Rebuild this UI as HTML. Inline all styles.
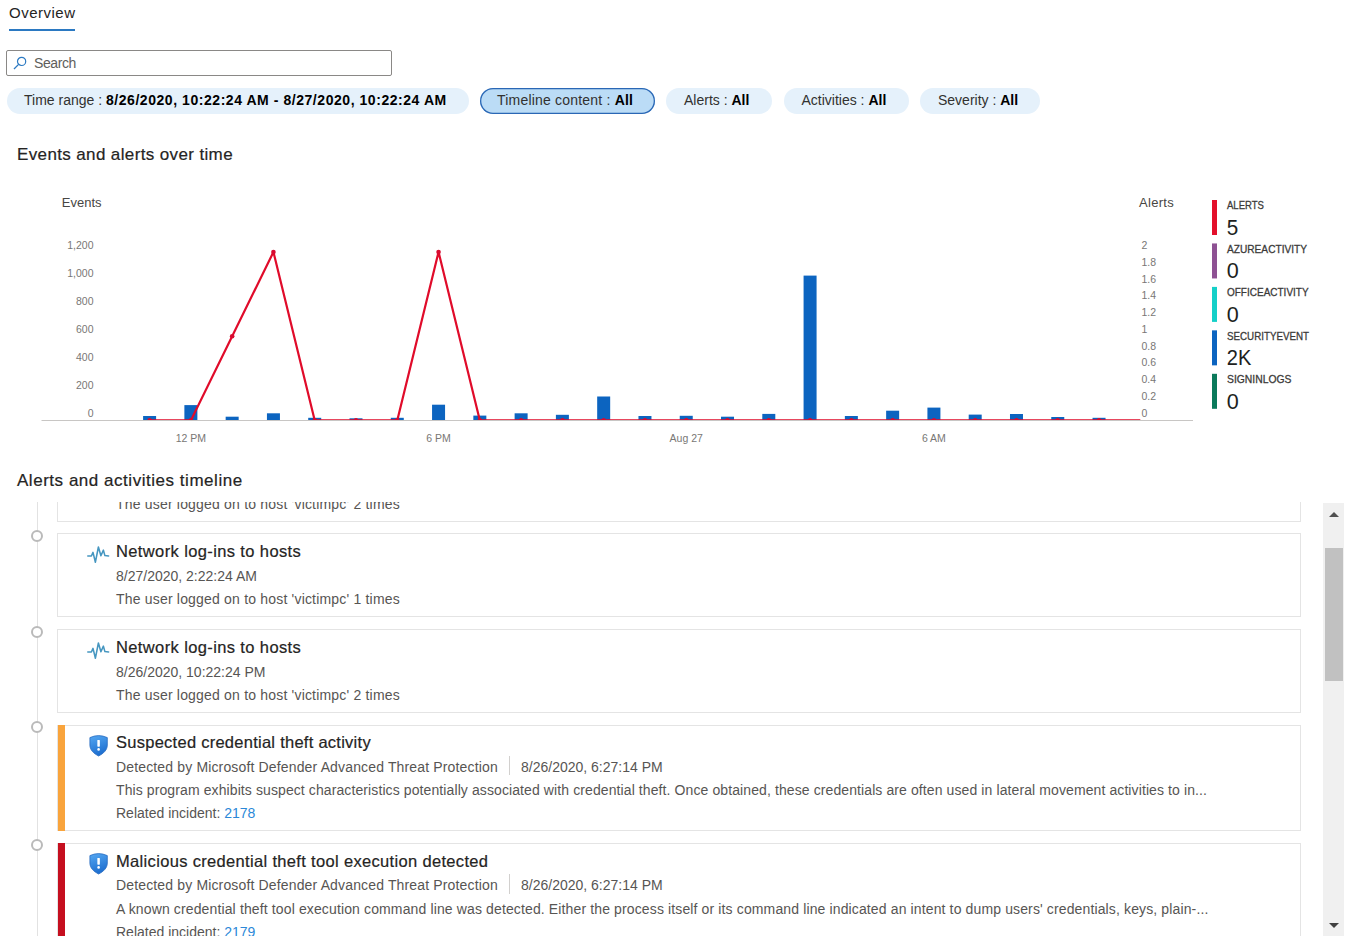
<!DOCTYPE html>
<html>
<head>
<meta charset="utf-8">
<style>
html,body{margin:0;padding:0;background:#fff;}
body{width:1352px;height:936px;overflow:hidden;position:relative;font-family:"Liberation Sans",Arial,sans-serif;color:#323130;}
.a{position:absolute;white-space:nowrap;}
.tab{left:9px;top:3.5px;font-size:15px;letter-spacing:0.5px;color:#252423;}
.tabline{left:9px;top:29px;width:66px;height:2px;background:#2b79c2;}
.search{left:6px;top:50px;width:384px;height:24px;border:1px solid #8a8886;border-radius:2px;}
.search span{position:absolute;left:27px;top:4.2px;font-size:14px;letter-spacing:-0.4px;color:#605e5c;}
.pill{top:88px;height:26px;border-radius:13px;background:#e5f1fb;font-size:14px;line-height:25px;color:#323130;box-sizing:border-box;}
.pill b{color:#000;}
.pill b.d{letter-spacing:0.55px;}
.pill.sel{background:#bbdcf6;box-shadow:inset 0 0 0 1.3px #2a67b5;}
.h2{font-size:17px;color:#252423;-webkit-text-stroke:0.2px #252423;}
svg text{font-family:"Liberation Sans",Arial,sans-serif;}
.axt{font-size:13px;fill:#484644;}
.ayl{font-size:10.5px;fill:#797775;}
.axl{font-size:10.5px;fill:#797775;}
.lgn{font-size:11.2px;fill:#3b3a39;stroke:#3b3a39;stroke-width:0.3px;}
.lgv{font-size:21.6px;fill:#201f1e;}
.card{left:57px;width:1244px;border:1px solid #e4e4e4;background:#fff;box-sizing:border-box;}
.circ{width:12px;height:12px;border:2px solid #bababa;border-radius:50%;box-sizing:border-box;background:#fff;}
.ct{font-size:16.5px;line-height:16.5px;letter-spacing:0.35px;color:#252423;-webkit-text-stroke:0.2px #252423;}
.cs{font-size:14px;line-height:14px;letter-spacing:0.13px;color:#575553;}
.cs.dt{letter-spacing:0;}
.cs.ds{letter-spacing:0.1px;}
.lnk{color:#2b88d8;}
</style>
</head>
<body>
<div class="a tab">Overview</div>
<div class="a tabline"></div>

<div class="a search">
<svg style="position:absolute;left:6px;top:5px" width="14" height="14" viewBox="0 0 14 14"><circle cx="8.6" cy="5.4" r="4.1" fill="none" stroke="#2b79c2" stroke-width="1.2"/><line x1="5.6" y1="8.4" x2="1" y2="13" stroke="#2b79c2" stroke-width="1.3"/></svg>
<span>Search</span>
</div>

<div class="a pill" style="left:7px;width:462px;padding-left:17px">Time range : <b class="d">8/26/2020, 10:22:24 AM - 8/27/2020, 10:22:24 AM</b></div>
<div class="a pill sel" style="left:480px;width:175px;padding-left:17px;letter-spacing:0.2px">Timeline content : <b>All</b></div>
<div class="a pill" style="left:666px;width:106px;padding-left:18px">Alerts : <b>All</b></div>
<div class="a pill" style="left:783.5px;width:125.5px;padding-left:18px">Activities : <b>All</b></div>
<div class="a pill" style="left:920px;width:120px;padding-left:18px">Severity : <b>All</b></div>

<div class="a h2" style="left:17px;top:145px;letter-spacing:0.37px">Events and alerts over time</div>

<svg class="a" style="left:0;top:180px" width="1352" height="280" viewBox="0 180 1352 280">
<text x="61.8" y="206.9" class="axt">Events</text>
<text x="1139" y="207.3" class="axt" style="letter-spacing:0.3px">Alerts</text>
<text x="93.5" y="249.3" class="ayl" text-anchor="end">1,200</text>
<text x="93.5" y="277.22" class="ayl" text-anchor="end">1,000</text>
<text x="93.5" y="305.14" class="ayl" text-anchor="end">800</text>
<text x="93.5" y="333.06" class="ayl" text-anchor="end">600</text>
<text x="93.5" y="360.98" class="ayl" text-anchor="end">400</text>
<text x="93.5" y="388.9" class="ayl" text-anchor="end">200</text>
<text x="93.5" y="416.82" class="ayl" text-anchor="end">0</text>
<text x="1141.5" y="249.3" class="ayl">2</text>
<text x="1141.5" y="266.03" class="ayl">1.8</text>
<text x="1141.5" y="282.76" class="ayl">1.6</text>
<text x="1141.5" y="299.49" class="ayl">1.4</text>
<text x="1141.5" y="316.22" class="ayl">1.2</text>
<text x="1141.5" y="332.95" class="ayl">1</text>
<text x="1141.5" y="349.68" class="ayl">0.8</text>
<text x="1141.5" y="366.41" class="ayl">0.6</text>
<text x="1141.5" y="383.14" class="ayl">0.4</text>
<text x="1141.5" y="399.87" class="ayl">0.2</text>
<text x="1141.5" y="416.6" class="ayl">0</text>
<rect x="41.5" y="420" width="1151.5" height="1" fill="#c8c6c4"/>
<rect x="143.1" y="416" width="13" height="4" fill="#0c64c0"/>
<rect x="184.38" y="405.1" width="13" height="14.9" fill="#0c64c0"/>
<rect x="225.66" y="416.7" width="13" height="3.3" fill="#0c64c0"/>
<rect x="266.94" y="413.3" width="13" height="6.7" fill="#0c64c0"/>
<rect x="308.22" y="417.8" width="13" height="2.2" fill="#0c64c0"/>
<rect x="349.5" y="418.3" width="13" height="1.7" fill="#0c64c0"/>
<rect x="390.78" y="417.8" width="13" height="2.2" fill="#0c64c0"/>
<rect x="432.06" y="404.7" width="13" height="15.3" fill="#0c64c0"/>
<rect x="473.34" y="415.6" width="13" height="4.4" fill="#0c64c0"/>
<rect x="514.62" y="413.3" width="13" height="6.7" fill="#0c64c0"/>
<rect x="555.9" y="414.8" width="13" height="5.2" fill="#0c64c0"/>
<rect x="597.18" y="396.5" width="13" height="23.5" fill="#0c64c0"/>
<rect x="638.46" y="416" width="13" height="4" fill="#0c64c0"/>
<rect x="679.74" y="415.8" width="13" height="4.2" fill="#0c64c0"/>
<rect x="721.02" y="416.7" width="13" height="3.3" fill="#0c64c0"/>
<rect x="762.3" y="413.9" width="13" height="6.1" fill="#0c64c0"/>
<rect x="803.58" y="275.6" width="13" height="144.4" fill="#0c64c0"/>
<rect x="844.86" y="416" width="13" height="4" fill="#0c64c0"/>
<rect x="886.14" y="410.7" width="13" height="9.3" fill="#0c64c0"/>
<rect x="927.42" y="407.6" width="13" height="12.4" fill="#0c64c0"/>
<rect x="968.7" y="414.6" width="13" height="5.4" fill="#0c64c0"/>
<rect x="1009.98" y="414" width="13" height="6" fill="#0c64c0"/>
<rect x="1051.26" y="417" width="13" height="3" fill="#0c64c0"/>
<rect x="1092.54" y="417.8" width="13" height="2.2" fill="#0c64c0"/>
<defs><clipPath id="pc"><rect x="0" y="180" width="1352" height="240"/></clipPath></defs>
<g clip-path="url(#pc)"><polyline fill="none" stroke="#e00b2a" stroke-width="2.2" stroke-linejoin="round" points="149.6,420.4 190.88,420.4 232.16,336.2 273.44,252 314.72,420.4 356,420.4 397.28,420.4 438.56,252 479.84,420.4 521.12,420.4 562.4,420.4 603.68,420.4 644.96,420.4 686.24,420.4 727.52,420.4 768.8,420.4 810.08,420.4 851.36,420.4 892.64,420.4 933.92,420.4 975.2,420.4 1016.48,420.4 1057.76,420.4 1099.04,420.4 1140.32,420.4"/>
<circle cx="149.6" cy="420.4" r="2.3" fill="#d80b30"/>
<circle cx="190.88" cy="420.4" r="2.3" fill="#d80b30"/>
<circle cx="232.16" cy="336.2" r="2.3" fill="#d80b30"/>
<circle cx="273.44" cy="252" r="2.3" fill="#d80b30"/>
<circle cx="314.72" cy="420.4" r="2.3" fill="#d80b30"/>
<circle cx="356" cy="420.4" r="2.3" fill="#d80b30"/>
<circle cx="397.28" cy="420.4" r="2.3" fill="#d80b30"/>
<circle cx="438.56" cy="252" r="2.3" fill="#d80b30"/>
<circle cx="479.84" cy="420.4" r="2.3" fill="#d80b30"/>
<circle cx="521.12" cy="420.4" r="2.3" fill="#d80b30"/>
<circle cx="562.4" cy="420.4" r="2.3" fill="#d80b30"/>
<circle cx="603.68" cy="420.4" r="2.3" fill="#d80b30"/>
<circle cx="644.96" cy="420.4" r="2.3" fill="#d80b30"/>
<circle cx="686.24" cy="420.4" r="2.3" fill="#d80b30"/>
<circle cx="727.52" cy="420.4" r="2.3" fill="#d80b30"/>
<circle cx="768.8" cy="420.4" r="2.3" fill="#d80b30"/>
<circle cx="810.08" cy="420.4" r="2.3" fill="#d80b30"/>
<circle cx="851.36" cy="420.4" r="2.3" fill="#d80b30"/>
<circle cx="892.64" cy="420.4" r="2.3" fill="#d80b30"/>
<circle cx="933.92" cy="420.4" r="2.3" fill="#d80b30"/>
<circle cx="975.2" cy="420.4" r="2.3" fill="#d80b30"/>
<circle cx="1016.48" cy="420.4" r="2.3" fill="#d80b30"/>
<circle cx="1057.76" cy="420.4" r="2.3" fill="#d80b30"/>
<circle cx="1099.04" cy="420.4" r="2.3" fill="#d80b30"/>
</g>
<text x="190.88" y="442" class="axl" text-anchor="middle">12 PM</text>
<text x="438.56" y="442" class="axl" text-anchor="middle">6 PM</text>
<text x="686.24" y="442" class="axl" text-anchor="middle">Aug 27</text>
<text x="933.92" y="442" class="axl" text-anchor="middle">6 AM</text>
<rect x="1212" y="200" width="5" height="35" fill="#e3102b"/>
<text x="1227" y="209.35" class="lgn" textLength="37" lengthAdjust="spacingAndGlyphs">ALERTS</text>
<text x="1226.8" y="234.8" class="lgv" textLength="11.5" lengthAdjust="spacingAndGlyphs">5</text>
<rect x="1212" y="243.45" width="5" height="35" fill="#8e5193"/>
<text x="1227" y="252.8" class="lgn" textLength="80" lengthAdjust="spacingAndGlyphs">AZUREACTIVITY</text>
<text x="1226.8" y="278.25" class="lgv" textLength="12" lengthAdjust="spacingAndGlyphs">0</text>
<rect x="1212" y="286.9" width="5" height="35" fill="#14d0c8"/>
<text x="1227" y="296.25" class="lgn" textLength="81.6" lengthAdjust="spacingAndGlyphs">OFFICEACTIVITY</text>
<text x="1226.8" y="321.7" class="lgv" textLength="12" lengthAdjust="spacingAndGlyphs">0</text>
<rect x="1212" y="330.35" width="5" height="35" fill="#0c64c0"/>
<text x="1227" y="339.7" class="lgn" textLength="82" lengthAdjust="spacingAndGlyphs">SECURITYEVENT</text>
<text x="1226.8" y="365.15" class="lgv" textLength="24.5" lengthAdjust="spacingAndGlyphs">2K</text>
<rect x="1212" y="373.8" width="5" height="35" fill="#0b7a5b"/>
<text x="1227" y="383.15" class="lgn" textLength="64.4" lengthAdjust="spacingAndGlyphs">SIGNINLOGS</text>
<text x="1226.8" y="408.6" class="lgv" textLength="12" lengthAdjust="spacingAndGlyphs">0</text>
</svg>

<div class="a h2" style="left:17px;top:470.5px;letter-spacing:0.53px">Alerts and activities timeline</div>

<div class="a" style="left:0;top:502px;width:1352px;height:434px;overflow:hidden;">
<div class="a" style="left:36.5px;top:0;width:1.6px;height:434px;background:#e2e2e2"></div>
<div class="a card" style="top:-64px;height:84px"></div>
<div class="a cs" style="left:116px;top:-4.85px;letter-spacing:0.19px">The user logged on to host 'victimpc' 2 times</div>
<div class="a card" style="top:31px;height:84px"></div>
<div class="a circ" style="left:31.3px;top:28.2px"></div>
<svg class="a" style="left:87px;top:43px" width="24" height="20" viewBox="0 0 24 20"><polyline points="0.8,11 4.4,11 6,7.4 8.4,17.2 11.4,2 13.9,10.7 16.4,5.1 17.9,10.6 21.6,11" fill="none" stroke="#4596c0" stroke-width="1.55" stroke-linejoin="round" stroke-linecap="round"/></svg>
<div class="a ct" style="left:116px;top:41.13px;letter-spacing:0.38px">Network log-ins to hosts</div>
<div class="a cs dt" style="left:116px;top:67.15px">8/27/2020, 2:22:24 AM</div>
<div class="a cs" style="left:116px;top:90.25px;letter-spacing:0.19px">The user logged on to host 'victimpc' 1 times</div>
<div class="a card" style="top:126.5px;height:84px"></div>
<div class="a circ" style="left:31.3px;top:123.7px"></div>
<svg class="a" style="left:87px;top:138.5px" width="24" height="20" viewBox="0 0 24 20"><polyline points="0.8,11 4.4,11 6,7.4 8.4,17.2 11.4,2 13.9,10.7 16.4,5.1 17.9,10.6 21.6,11" fill="none" stroke="#4596c0" stroke-width="1.55" stroke-linejoin="round" stroke-linecap="round"/></svg>
<div class="a ct" style="left:116px;top:136.63px;letter-spacing:0.38px">Network log-ins to hosts</div>
<div class="a cs dt" style="left:116px;top:162.65px">8/26/2020, 10:22:24 PM</div>
<div class="a cs" style="left:116px;top:185.75px;letter-spacing:0.19px">The user logged on to host 'victimpc' 2 times</div>
<div class="a card" style="top:222.5px;height:106.5px"></div><div class="a" style="left:58px;top:222.5px;width:7px;height:106.5px;background:#f9a43c"></div>
<div class="a circ" style="left:31.3px;top:218.6px"></div>
<svg class="a" style="left:88.5px;top:232.7px" width="20" height="23" viewBox="0 0 20 23"><defs><linearGradient id="sg1" x1="0" y1="0" x2="0.3" y2="1"><stop offset="0" stop-color="#55a8f2"/><stop offset="1" stop-color="#1e6fd0"/></linearGradient></defs><path d="M0.9 2.6 Q9.6 -1.4 18.3 2.6 L18.3 10 C18.3 15 14.5 18.5 9.6 21 C4.7 18.5 0.9 15 0.9 10 Z" fill="url(#sg1)" stroke="#2a6cc0" stroke-width="0.8"/><rect x="8.35" y="4.9" width="2.5" height="6.8" rx="0.6" fill="#fff"/><circle cx="9.6" cy="14.4" r="1.3" fill="#fff"/></svg>
<div class="a ct" style="left:116px;top:232.13px;letter-spacing:0.26px">Suspected credential theft activity</div>
<div class="a cs" style="left:116px;top:257.95px;letter-spacing:0.15px">Detected by Microsoft Defender Advanced Threat Protection</div>
<div class="a" style="left:509px;top:253.9px;width:1px;height:19.5px;background:#d2d0ce"></div>
<div class="a cs dt" style="left:521px;top:257.95px">8/26/2020, 6:27:14 PM</div>
<div class="a cs ds" style="left:116px;top:281.45px;letter-spacing:0.1px">This program exhibits suspect characteristics potentially associated with credential theft. Once obtained, these credentials are often used in lateral movement activities to in...</div>
<div class="a cs dt" style="left:116px;top:304.25px">Related incident: <span class="lnk">2178</span></div>
<div class="a card" style="top:341px;height:157px"></div><div class="a" style="left:58px;top:341px;width:7px;height:157px;background:#c50f1f"></div>
<div class="a circ" style="left:31.3px;top:337.1px"></div>
<svg class="a" style="left:88.5px;top:351.2px" width="20" height="23" viewBox="0 0 20 23"><defs><linearGradient id="sg2" x1="0" y1="0" x2="0.3" y2="1"><stop offset="0" stop-color="#55a8f2"/><stop offset="1" stop-color="#1e6fd0"/></linearGradient></defs><path d="M0.9 2.6 Q9.6 -1.4 18.3 2.6 L18.3 10 C18.3 15 14.5 18.5 9.6 21 C4.7 18.5 0.9 15 0.9 10 Z" fill="url(#sg2)" stroke="#2a6cc0" stroke-width="0.8"/><rect x="8.35" y="4.9" width="2.5" height="6.8" rx="0.6" fill="#fff"/><circle cx="9.6" cy="14.4" r="1.3" fill="#fff"/></svg>
<div class="a ct" style="left:116px;top:350.63px;letter-spacing:0.33px">Malicious credential theft tool execution detected</div>
<div class="a cs" style="left:116px;top:376.45px;letter-spacing:0.15px">Detected by Microsoft Defender Advanced Threat Protection</div>
<div class="a" style="left:509px;top:372.4px;width:1px;height:19.5px;background:#d2d0ce"></div>
<div class="a cs dt" style="left:521px;top:376.45px">8/26/2020, 6:27:14 PM</div>
<div class="a cs ds" style="left:116px;top:399.95px;letter-spacing:0.13px">A known credential theft tool execution command line was detected. Either the process itself or its command line indicated an intent to dump users' credentials, keys, plain-...</div>
<div class="a cs dt" style="left:116px;top:422.75px">Related incident: <span class="lnk">2179</span></div>
<div class="a" style="left:1323px;top:0.7px;width:21px;height:440px;background:#f0f0f0"></div>
<div class="a" style="left:1324.5px;top:45.6px;width:18.3px;height:133.2px;background:#c1c1c1"></div>
<svg class="a" style="left:1328px;top:8.5px" width="12" height="7" viewBox="0 0 12 7"><path d="M1 6 L6 1 L11 6 Z" fill="#505050"/></svg>
<svg class="a" style="left:1328px;top:419.5px" width="12" height="7" viewBox="0 0 12 7"><path d="M1 1 L6 6 L11 1 Z" fill="#404040"/></svg>
</div>

</body>
</html>
